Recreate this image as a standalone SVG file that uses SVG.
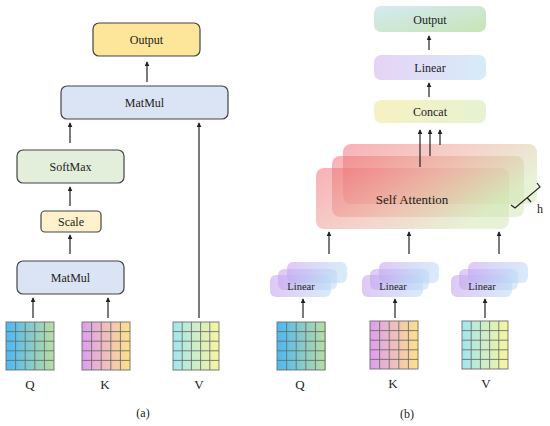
<svg xmlns="http://www.w3.org/2000/svg" width="550" height="426" viewBox="0 0 550 426">
<defs>
<style>
text{font-family:"Liberation Serif","DejaVu Serif",serif;fill:#222;text-anchor:middle}
.box{stroke:#444;stroke-width:1.2}
.arr{stroke:#222;stroke-width:1.2;fill:none;marker-end:url(#ah)}
.grid{stroke:#6d6d6d;stroke-width:0.9;fill:none}
.lbl{font-size:12px}
.big{font-size:13px}
.sa{fill:url(#gSA);opacity:0.5}
.lin{fill:url(#gLin);opacity:0.55}
</style>
<marker id="ah" viewBox="0 0 6 6" refX="5" refY="3" markerWidth="5" markerHeight="5" markerUnits="userSpaceOnUse" orient="auto">
<path d="M0,0 L6,3 L0,6 Z" fill="#222"/>
</marker>
<linearGradient id="gQ" x1="0" y1="0" x2="1" y2="0"><stop offset="0" stop-color="#4cb8f3"/><stop offset="1" stop-color="#b9dda4"/></linearGradient>
<linearGradient id="gK" x1="0" y1="0" x2="1" y2="0"><stop offset="0" stop-color="#de9df1"/><stop offset="1" stop-color="#fee189"/></linearGradient>
<linearGradient id="gV" x1="0" y1="0" x2="1" y2="0"><stop offset="0" stop-color="#a2e6f0"/><stop offset="1" stop-color="#f8f69e"/></linearGradient>
<linearGradient id="gSA" x1="0" y1="0" x2="1" y2="0.5"><stop offset="0" stop-color="#f0646e"/><stop offset="0.55" stop-color="#eaa796"/><stop offset="1" stop-color="#cfe4ae"/></linearGradient>
<linearGradient id="gLin" x1="0" y1="0" x2="1" y2="0"><stop offset="0" stop-color="#c49cee"/><stop offset="1" stop-color="#b8dcf6"/></linearGradient>
<linearGradient id="gOut" x1="0" y1="0" x2="1" y2="1"><stop offset="0" stop-color="#d6e9f3"/><stop offset="1" stop-color="#c6e5b6"/></linearGradient>
<linearGradient id="gLinB" x1="0" y1="0" x2="1" y2="0"><stop offset="0" stop-color="#e6d3f5"/><stop offset="1" stop-color="#d6ecf9"/></linearGradient>
<linearGradient id="gCat" x1="0" y1="0" x2="1" y2="0"><stop offset="0" stop-color="#f7f1c2"/><stop offset="1" stop-color="#e6f2d2"/></linearGradient>
<g id="grid5">
<rect x="0" y="0" width="48" height="48" class="grid"/>
<path class="grid" d="M9.6,0V48M19.2,0V48M28.8,0V48M38.4,0V48M0,9.6H48M0,19.2H48M0,28.8H48M0,38.4H48"/>
</g>
</defs>

<!-- (a) -->
<g id="a-output"><rect class="box" x="93" y="23" width="107" height="33" rx="6" fill="#fde59a"/><text class="lbl" x="146.5" y="44">Output</text></g>
<g id="a-matmul-top"><rect class="box" x="61" y="86" width="167" height="33" rx="6" fill="#dbe4f4"/><text class="lbl" x="144.5" y="107">MatMul</text></g>
<g id="a-softmax"><rect class="box" x="17" y="150" width="107" height="33" rx="6" fill="#e3efdb"/><text class="lbl" x="70.5" y="171">SoftMax</text></g>
<g id="a-scale"><rect class="box" x="41" y="211" width="60" height="21" rx="4" fill="#fff1cb"/><text class="lbl" x="71" y="225.5">Scale</text></g>
<g id="a-matmul-bot"><rect class="box" x="17" y="261" width="107" height="33" rx="6" fill="#dbe4f4"/><text class="lbl" x="70.5" y="282">MatMul</text></g>
<g id="a-Q"><rect x="6" y="322" width="48" height="48" fill="url(#gQ)"/><use href="#grid5" x="6" y="322"/><text class="big" x="30" y="389">Q</text></g>
<g id="a-K"><rect x="82" y="322" width="48" height="48" fill="url(#gK)"/><use href="#grid5" x="82" y="322"/><text class="big" x="105" y="389">K</text></g>
<g id="a-V"><rect x="173" y="322" width="46" height="48" fill="url(#gV)"/><use href="#grid5" transform="translate(173,322) scale(0.958,1)"/><text class="big" x="199" y="389">V</text></g>
<text class="lbl" x="143" y="417">(a)</text>

<!-- (b) -->
<g id="b-output"><rect x="374" y="6" width="112" height="26" rx="7" fill="url(#gOut)"/><text class="lbl" x="430" y="23.5">Output</text></g>
<g id="b-linear"><rect x="374" y="55" width="112" height="25" rx="7" fill="url(#gLinB)"/><text class="lbl" x="430" y="72">Linear</text></g>
<g id="b-concat"><rect x="374" y="100" width="112" height="23" rx="7" fill="url(#gCat)"/><text class="lbl" x="430" y="116">Concat</text></g>
<g id="b-selfattn">
<rect class="sa" x="343" y="144" width="194" height="60" rx="8"/>
<rect class="sa" x="332" y="156" width="192" height="61" rx="8"/>
<rect class="sa" x="316" y="168" width="193" height="61" rx="8"/>
<text x="412" y="204" style="font-size:13px">Self Attention</text>
<path d="M511,205 L515,208 L540,187 L537,183 M527,197.5 L531,202" fill="none" stroke="#222" stroke-width="1.2"/>
<text class="lbl" x="540" y="213">h</text>
</g>
<g id="b-linQ">
<rect class="lin" x="287" y="262" width="60" height="21" rx="6"/>
<rect class="lin" x="278" y="269" width="59" height="21" rx="6"/>
<rect class="lin" x="270" y="275" width="61" height="22" rx="6"/>
<text x="301" y="290" style="font-size:10.5px">Linear</text>
</g>
<g id="b-linK">
<rect class="lin" x="379" y="262" width="60" height="21" rx="6"/>
<rect class="lin" x="370" y="269" width="59" height="21" rx="6"/>
<rect class="lin" x="362" y="275" width="61" height="22" rx="6"/>
<text x="393" y="290" style="font-size:10.5px">Linear</text>
</g>
<g id="b-linV">
<rect class="lin" x="468" y="262" width="60" height="21" rx="6"/>
<rect class="lin" x="459" y="269" width="59" height="21" rx="6"/>
<rect class="lin" x="451" y="275" width="61" height="22" rx="6"/>
<text x="482" y="290" style="font-size:10.5px">Linear</text>
</g>
<g id="b-Q"><rect x="277" y="322" width="49" height="48" fill="url(#gQ)"/><use href="#grid5" x="277" y="322"/><text class="big" x="300" y="389">Q</text></g>
<g id="b-K"><rect x="370" y="321" width="48" height="48" fill="url(#gK)"/><use href="#grid5" x="370" y="321"/><text class="big" x="393" y="388">K</text></g>
<g id="b-V"><rect x="462" y="321" width="46" height="48" fill="url(#gV)"/><use href="#grid5" transform="translate(462,321) scale(0.958,1)"/><text class="big" x="486" y="388">V</text></g>
<text class="lbl" x="407" y="418">(b)</text>

<g id="connectors">
<line class="arr" x1="147" y1="82" x2="147" y2="62"/>
<line class="arr" x1="70" y1="143" x2="70" y2="123"/>
<line class="arr" x1="199" y1="318" x2="199" y2="123"/>
<line class="arr" x1="70" y1="206" x2="70" y2="187"/>
<line class="arr" x1="70" y1="254" x2="70" y2="235"/>
<line class="arr" x1="33" y1="318" x2="33" y2="298"/>
<line class="arr" x1="108" y1="318" x2="108" y2="298"/>
<line class="arr" x1="429" y1="50" x2="429" y2="36"/>
<line class="arr" x1="429" y1="97" x2="429" y2="83"/>
<line class="arr" x1="420" y1="167" x2="420" y2="130"/>
<line class="arr" x1="430" y1="156" x2="430" y2="130"/>
<line class="arr" x1="440" y1="145" x2="440" y2="130"/>
<line class="arr" x1="329" y1="254" x2="329" y2="232"/>
<line class="arr" x1="409" y1="254" x2="409" y2="232"/>
<line class="arr" x1="499" y1="254" x2="499" y2="232"/>
<line class="arr" x1="303" y1="318" x2="303" y2="299"/>
<line class="arr" x1="395" y1="318" x2="395" y2="299"/>
<line class="arr" x1="485" y1="318" x2="485" y2="299"/>
</g>
</svg>
